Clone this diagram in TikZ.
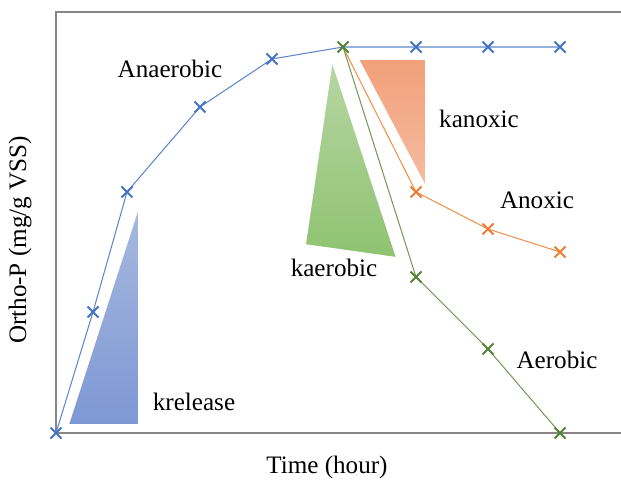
\documentclass[tikz,border=0pt]{standalone}
\usepackage{fontspec}
\setmainfont{Liberation Serif}
\definecolor{serblue}{HTML}{4472C4}
\definecolor{serorange}{HTML}{ED7D31}
\definecolor{sergreen}{HTML}{548235}
\definecolor{axisgray}{HTML}{868686}
\definecolor{bluetop}{HTML}{A9B9DF}
\definecolor{bluebot}{HTML}{7D98D4}
\definecolor{greentop}{HTML}{B7D6A4}
\definecolor{greenbot}{HTML}{8EC370}
\definecolor{orangetop}{HTML}{F2A07A}
\definecolor{orangebot}{HTML}{F5BCA0}
\tikzset{
  lbl/.style={font=\fontsize{14.3}{17}\selectfont, inner sep=0pt},
  series/.style={line width=0.6pt},
  mk/.style={line width=1.1pt},
  tri/.style={draw=white, line width=1pt}
}
\newcommand{\cross}[2]{\draw[mk,#1] ($(#2)+(-5.5,-5.5)$) -- ($(#2)+(5.5,5.5)$) ($(#2)+(-5.5,5.5)$) -- ($(#2)+(5.5,-5.5)$);}
\usetikzlibrary{calc}
\begin{document}
\begin{tikzpicture}[x=0.02cm,y=-0.02cm]
			\useasboundingbox (0,0) rectangle (621,482);
			% frame
			\draw[axisgray,line width=1.2pt] (621,12) -- (56,12) -- (56,433) -- (621,433);
			% triangles
			\shade[tri,top color=bluetop,bottom color=bluebot] (139,205) -- (68,425) -- (139,425) -- cycle;
			\shade[tri,top color=greentop,bottom color=greenbot] (332,60) -- (305,245) -- (397,258) -- cycle;
			\shade[tri,top color=orangetop,bottom color=orangebot] (358,59) -- (426,59) -- (426,188) -- cycle;
			% data points
			\coordinate (b0) at (56,433);
			\coordinate (b1) at (93,312);
			\coordinate (b2) at (127,192);
			\coordinate (b3) at (200,107);
			\coordinate (b4) at (272,59);
			\coordinate (b5) at (343,47);
			\coordinate (b6) at (416,47);
			\coordinate (b7) at (488,47);
			\coordinate (b8) at (560,47);
			\coordinate (o1) at (416,192);
			\coordinate (o2) at (488,229);
			\coordinate (o3) at (560,252);
			\coordinate (g1) at (416,277);
			\coordinate (g2) at (488,349);
			\coordinate (g3) at (560,433);
			% series
			\draw[series,serblue!85] (b0) -- (b1) -- (b2) -- (b3) -- (b4) -- (b5) -- (b6) -- (b7) -- (b8);
			\draw[series,serorange!85] (b5) -- (o1) -- (o2) -- (o3);
			\draw[series,sergreen!80] (b5) -- (g1) -- (g2) -- (g3);
			\foreach \p in {b0,b1,b2,b3,b4,b6,b7,b8} {\cross{serblue}{\p}}
			\foreach \p in {o1,o2,o3} {\cross{serorange}{\p}}
			\foreach \p in {b5,g1,g2,g3} {\cross{sergreen}{\p}}
			% labels
			\node[lbl] (anaer) at (170,69) {Anaerobic};
			\node[lbl] (kanox) at (479,119) {kanoxic};
			\node[lbl] (anox) at (537,200) {Anoxic};
			\node[lbl] (kaer) at (334,268) {kaerobic};
			\node[lbl] (aer) at (557,360) {Aerobic};
			\node[lbl] (krel) at (194,402) {krelease};
			\node[lbl] (xlab) at (327,467) {Time (hour)};
			\node[lbl,rotate=90] (ylab) at (20,240) {Ortho-P (mg/g VSS)};
		\end{tikzpicture}
\end{document}
